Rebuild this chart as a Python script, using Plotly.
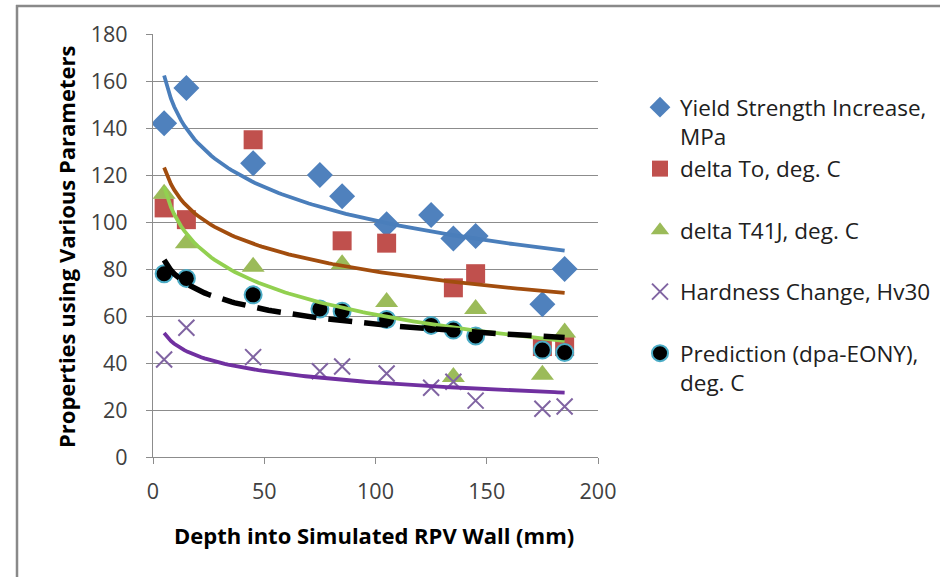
import numpy as np
import plotly.graph_objects as go

# ---------------- data ----------------
depth_all = [5, 15, 45, 75, 85, 105, 125, 135, 145, 175, 185]
depth_sub = [5, 15, 45, 85, 105, 135, 145, 175, 185]

yield_strength = [142, 157, 125, 120, 111, 99, 103, 93, 94, 65, 80]
delta_to = [106, 101, 135, 92, 91, 72, 78, 47, 47]
delta_t41j = [112, 91, 81, 82, 66, 34, 63, 35, 53]
hardness = [41.5, 55, 42.5, 36.5, 38.5, 35.5, 29.5, 32, 24, 20.5, 21.5]
prediction = [78, 76, 69, 63, 62, 58.5, 56, 54, 51.5, 45.5, 44.5]

names = ["Yield Strength Increase,<br>MPa",
         "delta To, deg. C<br>&nbsp;",
         "delta T41J, deg. C<br>&nbsp;",
         "Hardness Change, Hv30<br>&nbsp;",
         "Prediction (dpa-EONY),<br>deg. C"]

x_ticks = [0, 50, 100, 150, 200]
y_ticks = [0, 20, 40, 60, 80, 100, 120, 140, 160, 180]

FONT = "Open Sans"

fig = go.Figure()

marker_specs = [
    (depth_all, yield_strength, dict(symbol="diamond", size=20, color="#4F81BD")),
    (depth_sub, delta_to, dict(symbol="square", size=19, color="#C0504D")),
    (depth_sub, delta_t41j, dict(symbol="triangle-up", size=20, color="#9BBB59")),
    (depth_all, hardness, dict(symbol="x-thin", size=16, color="#8064A2",
                               line=dict(color="#8064A2", width=2))),
    (depth_all, prediction, dict(symbol="circle", size=17, color="#000000",
                                 line=dict(color="#4BACC6", width=2))),
]

for (xs, ys, mk), nm in zip(marker_specs, names):
    fig.add_trace(go.Scatter(x=xs, y=ys, mode="markers", name=nm, marker=mk))

# Logarithmic trendlines (least-squares fit y = a + b ln x, as the spreadsheet does)
trend_specs = [
    (depth_all, yield_strength, dict(color="#4A7EBB", width=3.8)),
    (depth_sub, delta_to, dict(color="#A24D0E", width=3.8)),
    (depth_sub, delta_t41j, dict(color="#92D050", width=3.8)),
    (depth_all, hardness, dict(color="#7030A0", width=3.8)),
    (depth_all, prediction, dict(color="#000000", width=5.5, dash="24px,12px")),
]
for xs, ys, ln in trend_specs:
    b, a = np.polyfit(np.log(xs), ys, 1)
    xf = np.linspace(min(xs), max(xs), 120)
    fig.add_trace(go.Scatter(x=xf, y=a + b * np.log(xf), mode="lines",
                             line=ln, showlegend=False, hoverinfo="skip"))

L, R, T, B = 153, 342, 34, 120
W, H = 940, 577
pw, ph = W - L - R, H - T - B


def px2x(px):
    return (px - L) / pw


def px2y(py):
    return (H - B - py) / ph


fig.update_layout(
    width=W, height=H,
    margin=dict(l=L, r=R, t=T, b=B, pad=0, autoexpand=False),
    paper_bgcolor="white", plot_bgcolor="white",
    font=dict(family=FONT, size=21, color="#404040"),
    showlegend=True,
    legend=dict(x=px2x(640), y=px2y(86), xanchor="left", yanchor="top",
                valign="top", font=dict(family=FONT, size=22.5, color="#202020"),
                itemsizing="trace", bgcolor="rgba(0,0,0,0)",
                tracegroupgap=0),
    xaxis=dict(range=[0, 200], tickvals=x_ticks, showgrid=False,
               showline=True, linecolor="#8C8C8C", linewidth=1.3,
               ticks="outside", ticklen=6, tickcolor="#8C8C8C",
               ticklabelstandoff=9, zeroline=False,
               tickfont=dict(family=FONT, size=21.5, color="#404040")),
    yaxis=dict(range=[0, 180], tickvals=y_ticks, showgrid=True,
               gridcolor="#8C8C8C", gridwidth=1.3,
               showline=True, linecolor="#8C8C8C", linewidth=1.3,
               ticks="outside", ticklen=6, tickcolor="#8C8C8C",
               ticklabelstandoff=14, zeroline=False,
               tickfont=dict(family=FONT, size=21.5, color="#404040")),
    annotations=[
        dict(text="<b>Depth into Simulated RPV Wall (mm)</b>", xref="paper", yref="paper",
             x=px2x(374), y=px2y(535), xanchor="center", yanchor="middle", showarrow=False,
             font=dict(family=FONT, size=22, color="#000000")),
        dict(text="<b>Properties using Various Parameters</b>", xref="paper", yref="paper",
             x=px2x(66), y=px2y(247), xanchor="center", yanchor="middle", showarrow=False,
             textangle=-90, font=dict(family=FONT, size=22, color="#000000")),
    ],
    shapes=[
        dict(type="line", xref="paper", yref="paper", x0=px2x(16), x1=px2x(945),
             y0=px2y(6), y1=px2y(6), line=dict(color="#898989", width=2.5)),
        dict(type="line", xref="paper", yref="paper", x0=px2x(17), x1=px2x(17),
             y0=px2y(5), y1=px2y(600), line=dict(color="#898989", width=2.5)),
    ],
)

fig.write_html("out.html")
